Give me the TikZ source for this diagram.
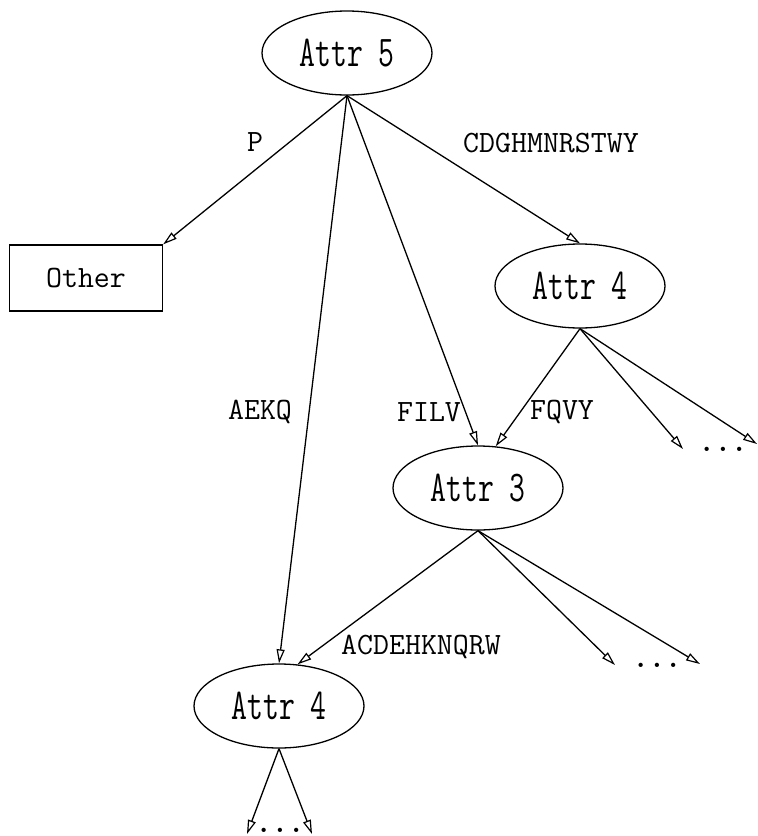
\documentclass[tikz,border=0pt]{standalone}
\usepackage{fontspec}
\usepackage{graphicx}
\usetikzlibrary{shapes.geometric,arrows.meta}

\tikzset{
  attr/.style={ellipse, draw, line width=1.3pt, minimum width=170pt, minimum height=84pt, inner sep=0pt},
  leaf/.style={rectangle, draw, line width=1.3pt, minimum width=153pt, minimum height=66pt, inner sep=0pt,
    font=\fontsize{31}{34}\ttfamily},
  lbl/.style={font=\fontsize{31}{34}\ttfamily, inner sep=0pt},
  dots/.style={font=\fontsize{31}{34}\ttfamily\bfseries, inner sep=0pt, anchor=base},
  edge/.style={line width=1.3pt, -{Triangle[open, length=14pt, width=8pt, line width=1.2pt]}},
}
\newcommand{\attrtext}[1]{\scalebox{0.7}[1]{\fontsize{44}{48}\ttfamily #1}}

\begin{document}
\begin{tikzpicture}[x=1pt, y=-1pt]
  \useasboundingbox (0,0) rectangle (758,836);

  % decision nodes
  \node[attr] (a5)  at (347,53)  {\attrtext{Attr 5}};
  \node[leaf] (oth) at (86,278)  {Other};
  \node[attr] (a4r) at (580,286) {\attrtext{Attr 4}};
  \node[attr] (a3)  at (478,488) {\attrtext{Attr 3}};
  \node[attr] (a4b) at (279,706) {\attrtext{Attr 4}};

  % loose branch ends
  \coordinate (r1) at (683,449);
  \coordinate (r2) at (757,444);
  \coordinate (m1) at (615,665);
  \coordinate (m2) at (700,664);
  \coordinate (b1) at (247,834);
  \coordinate (b2) at (312,834);

  % branches
  \draw[edge] (a5.south) -- (oth.north east);
  \draw[edge] (a5.south) -- (a4b.north);
  \draw[edge] (a5.south) -- (a3.north);
  \draw[edge] (a5.south) -- (a4r.north);
  \draw[edge] (a4r.south) -- (a3.67);
  \draw[edge] (a4r.south) -- (r1);
  \draw[edge] (a4r.south) -- (r2);
  \draw[edge] (a3.south) -- (a4b.66);
  \draw[edge] (a3.south) -- (m1);
  \draw[edge] (a3.south) -- (m2);
  \draw[edge] (a4b.south) -- (b1);
  \draw[edge] (a4b.south) -- (b2);

  % branch labels
  \node[lbl] (lp)    at (255,142) {P};
  \node[lbl] (lcdg)  at (551,143) {CDGHMNRSTWY};
  \node[lbl] (laekq) at (260,412) {AEKQ};
  \node[lbl] (lfilv) at (429,412) {FILV};
  \node[lbl] (lfqvy) at (562,412) {FQVY};
  \node[lbl] (lacd)  at (421,647) {ACDEHKNQRW};

  % elided subtrees
  \node[dots] (d1) at (723,451) {...};
  \node[dots] (d2) at (657,667) {...};
  \node[dots] (d3) at (280,832) {...};
\end{tikzpicture}
\end{document}
